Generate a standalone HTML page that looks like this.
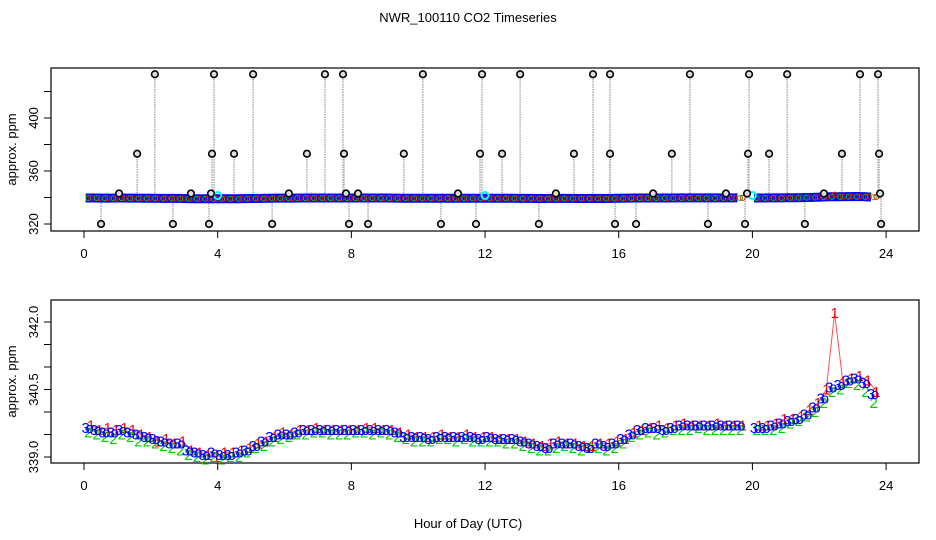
<!DOCTYPE html>
<html><head><meta charset="utf-8"><style>
body{margin:0;background:#fff}
svg{display:block;font-family:"Liberation Sans",sans-serif}
</style></head><body>
<svg id="c" width="936" height="540" viewBox="0 0 936 540">
<rect width="936" height="540" fill="#fff"/>
<text x="468" y="22" font-size="13" text-anchor="middle">NWR_100110  CO2 Timeseries</text>
<text x="468" y="528" font-size="13" text-anchor="middle">Hour of Day (UTC)</text>
<g id="top"></g>
<g id="bot"></g>
</svg>
<script>
const hours=[0.05,0.30,0.55,0.80,1.05,1.30,1.55,1.80,2.05,2.30,2.55,2.80,3.05,3.30,3.55,3.80,
4.05,4.30,4.55,4.80,5.05,5.30,5.55,5.80,6.05,6.30,6.55,6.80,7.05,7.30,7.55,7.80,
8.05,8.30,8.55,8.80,9.05,9.30,9.55,9.80,10.05,10.30,10.55,10.80,11.05,11.30,11.55,11.80,
12.05,12.30,12.55,12.80,13.05,13.30,13.55,13.80,14.05,14.30,14.55,14.80,15.05,15.30,15.55,15.80,
16.05,16.30,16.55,16.80,17.05,17.30,17.55,17.80,18.05,18.30,18.55,18.80,19.05,19.30,19.55,19.80,
20.05,20.30,20.55,20.80,21.05,21.30,21.55,21.80,22.05,22.30,22.55,22.80,23.05,23.30,23.55];
const s3=[339.65,339.6,339.55,339.55,339.6,339.55,339.5,339.45,339.4,339.35,339.3,339.3,339.15,339.1,339.05,339.1,
339.05,339.05,339.1,339.15,339.25,339.35,339.45,339.5,339.5,339.55,339.6,339.6,339.6,339.6,339.6,339.6,
339.6,339.6,339.6,339.6,339.6,339.55,339.45,339.45,339.45,339.4,339.45,339.45,339.45,339.45,339.45,339.4,
339.45,339.4,339.4,339.4,339.35,339.3,339.25,339.2,339.3,339.3,339.3,339.25,339.2,339.3,339.25,339.3,
339.4,339.5,339.6,339.65,339.65,339.6,339.65,339.7,339.7,339.7,339.7,339.7,339.7,339.7,339.7,null,
339.65,339.65,339.7,339.75,339.8,339.85,339.95,340.1,340.3,340.55,340.6,340.7,340.75,340.65,340.4];
const s2=[339.55,339.5,339.45,339.4,339.5,339.45,339.35,339.35,339.3,339.25,339.2,339.15,339.05,339.0,338.95,339.0,
338.95,339.0,339.0,339.1,339.2,339.25,339.35,339.4,339.45,339.5,339.5,339.55,339.55,339.5,339.5,339.5,
339.55,339.55,339.5,339.55,339.5,339.45,339.4,339.35,339.35,339.35,339.4,339.4,339.35,339.4,339.35,339.35,
339.35,339.35,339.3,339.3,339.25,339.2,339.15,339.15,339.2,339.25,339.2,339.15,339.2,339.2,339.15,339.2,
339.3,339.45,339.5,339.55,339.5,339.55,339.6,339.6,339.6,339.65,339.6,339.6,339.6,339.6,339.6,null,
339.6,339.6,339.6,339.65,339.75,339.8,339.9,340.0,340.2,340.45,340.5,340.65,340.6,340.45,340.2];
const s1=[339.7,339.6,339.65,339.6,339.65,339.6,339.5,339.45,339.35,339.4,339.3,339.35,339.15,339.1,339.05,339.0,
339.1,339.1,339.15,339.2,339.3,339.35,339.45,339.55,339.5,339.6,339.6,339.65,339.6,339.6,339.6,339.6,
339.6,339.65,339.65,339.6,339.6,339.55,339.5,339.45,339.45,339.45,339.5,339.45,339.45,339.5,339.45,339.45,
339.45,339.4,339.4,339.4,339.35,339.3,339.25,339.3,339.35,339.3,339.3,339.25,339.25,339.3,339.3,339.35,
339.4,339.55,339.6,339.65,339.7,339.65,339.7,339.75,339.7,339.7,339.7,339.75,339.7,339.7,339.7,null,
339.7,339.7,339.75,339.85,339.85,339.9,340.05,340.2,340.5,342.2,340.65,340.75,340.8,340.7,340.45];
const outHours=[2.12,3.89,5.06,7.21,7.75,10.14,11.91,13.05,15.23,15.74,18.13,19.9,21.04,23.22,23.76,
1.59,3.83,4.49,6.67,7.78,9.57,11.85,12.51,14.66,15.74,17.59,19.87,20.5,22.68,23.79,
1.05,3.2,3.8,6.13,7.84,8.2,11.19,14.12,17.03,19.21,19.84,22.14,23.82,
0.51,2.66,3.74,5.63,7.93,8.5,10.68,11.73,13.61,15.89,16.52,18.67,19.78,21.57,23.85];
const outVals=[433,433,433,433,433,433,433,433,433,433,433,433,433,433,433,
373,373,373,373,373,373,373,373,373,373,373,373,373,373,373,
343,343,343,343,343,343,343,343,343,343,343,343,343,
320,320,320,320,320,320,320,320,320,320,320,320,320,320,320];
const cyanHours=[4.0,12.0,20.0];
const cyanVals=[341.5,341.5,341.5];
const xTicks=[0,4,8,12,16,20,24];
const topTicks=[320,340,360,380,400,420];
const topLabels=[320,360,400];
const botTicks=[339.0,339.5,340.0,340.5,341.0,341.5,342.0];
const botLabels=["339.0","340.5","342.0"];

const NS="http://www.w3.org/2000/svg";
function mk(p,t,a){const e=document.createElementNS(NS,t);for(const k in a)e.setAttribute(k,a[k]);p.appendChild(e);return e;}
const X=h=>84+h*33.42;
const YT=v=>224-(v-320)*26.5/20;
const YB=v=>457-(v-339)*45;

function axes(g,top,bottom,yf,ticks,labels){
  const b=mk(g,'rect',{x:51,y:top,width:868,height:bottom-top,fill:'none',stroke:'#000','stroke-width':1.2});
  
  
  xTicks.forEach(h=>{
    mk(g,'line',{x1:X(h),x2:X(h),y1:bottom,y2:bottom+7,stroke:'#000'});
    const t=mk(g,'text',{x:X(h),y:bottom+27,'font-size':13,'text-anchor':'middle'});t.textContent=h;
    
    
  });
  ticks.forEach(v=>mk(g,'line',{x1:44,x2:51,y1:yf(v),y2:yf(v),stroke:'#000'}));
  labels.forEach(v=>{
    const y=yf(parseFloat(v));
    const t=mk(g,'text',{x:0,y:0,'font-size':13,'text-anchor':'middle',transform:`translate(38,${y}) rotate(-90)`});t.textContent=v;
    
    
  });
  const yt=mk(g,'text',{x:0,y:0,'font-size':13,'text-anchor':'middle',transform:`translate(16,${(top+bottom)/2}) rotate(-90)`});
  yt.textContent='approx. ppm';
  
  
}

// TOP PANEL
const gt=document.getElementById('top');
axes(gt,68,231,YT,topTicks,topLabels.map(String));
outHours.forEach((h,i)=>{
  const l=mk(gt,'line',{x1:X(h),x2:X(h),y1:YT(339.5),y2:YT(outVals[i]),stroke:'#aaa','stroke-width':1.5,'stroke-dasharray':'1.5,1'});
  
  
});
function segs(arr){const out=[];let cur=[];hours.forEach((h,i)=>{if(arr[i]==null){if(cur.length)out.push(cur);cur=[];}else cur.push([h,arr[i]]);});if(cur.length)out.push(cur);return out;}
segs(s3).forEach(sg=>{
  const p=mk(gt,'polyline',{points:sg.map(q=>X(q[0])+','+YT(q[1])).join(' '),fill:'none',stroke:'#0000ff','stroke-width':9});
  
  
});
[[s2,'#00cc00',0.08],[s1,'#ff0000',0.16]].forEach(([arr,col,off])=>{
  hours.forEach((h,i)=>{ if(arr[i]==null)return;
    const c=mk(gt,'circle',{cx:X(h+off),cy:YT(arr[i]),r:2.5,fill:'none',stroke:col,'stroke-width':1});
    
    
  });
});
cyanHours.forEach((h,i)=>{
  const c=mk(gt,'circle',{cx:X(h),cy:YT(cyanVals[i]),r:3.5,fill:'none',stroke:'#00ffff','stroke-width':2});
  
  
});
outHours.forEach((h,i)=>{
  const c=mk(gt,'circle',{cx:X(h),cy:YT(outVals[i]),r:3.3,fill:'#ddd',stroke:'#000','stroke-width':1.6});
  
  
});

// BOTTOM PANEL
const gb=document.getElementById('bot');
axes(gb,300,463,YB,botTicks,botLabels);
segs(s1).forEach(sg=>{
  const p=mk(gb,'polyline',{points:sg.map(q=>X(q[0]+0.16)+','+YB(q[1])).join(' '),fill:'none',stroke:'#ff0000','stroke-width':1,'stroke-opacity':0.7});
  
  
});
[[s1,'#ff0000','1',0.16],[s2,'#00cc00','2',0.08],[s3,'#0000ff','3',0],[s3,'#0000ff','o',0.12]].forEach(([arr,col,ch,off])=>{
  hours.forEach((h,i)=>{ if(arr[i]==null)return;
    const t=mk(gb,'text',{x:X(h+off),y:YB(arr[i])+5,'font-size':15,fill:col,'text-anchor':'middle'});
    t.textContent=ch;
    
    
  });
});
</script>
</body></html>
